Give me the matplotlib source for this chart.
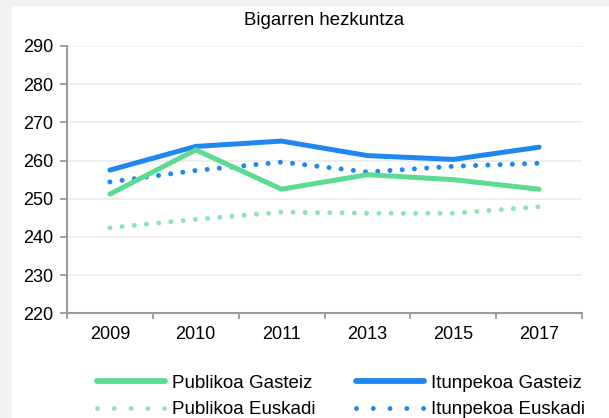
import matplotlib
matplotlib.use("Agg")
import matplotlib.pyplot as plt
from matplotlib.patches import Rectangle

plt.rcParams['font.family'] = ['Liberation Sans', 'DejaVu Sans']

years = ["2009", "2010", "2011", "2013", "2015", "2017"]
publikoa_gasteiz = [251.2, 262.8, 252.5, 256.3, 255.0, 252.5]
itunpekoa_gasteiz = [257.5, 263.7, 265.1, 261.3, 260.3, 263.5]
publikoa_euskadi = [242.4, 244.6, 246.5, 246.2, 246.2, 247.9]
itunpekoa_euskadi = [254.4, 257.4, 259.6, 257.0, 258.5, 259.3]
y_ticks = [220, 230, 240, 250, 260, 270, 280, 290]

GREEN = "#5cdb93"
GREEN_LIGHT = "#8fe5b1"
BLUE = "#1e88f0"
AXIS = "#9a9a9a"

fig = plt.figure(figsize=(6.09, 4.18), dpi=100)
fig.patch.set_facecolor("#f2f2f2")
# white chart panel behind everything
fig.patches.append(Rectangle((12 / 609, 0), 1, 1 - 6 / 418, transform=fig.transFigure,
                             facecolor="white", edgecolor="none", zorder=-10))

ax = fig.add_axes([67 / 609, 1 - 313.3 / 418, (582 - 67) / 609, (313.3 - 46) / 418])
ax.set_facecolor("white")

x = list(range(len(years)))
lw = 3.6
dot = (0, (0.001, 2.45))

ax.plot(x, publikoa_euskadi, color=GREEN_LIGHT, lw=lw, linestyle=dot,
        dash_capstyle="round", label="Publikoa Euskadi", zorder=3)
ax.plot(x, itunpekoa_euskadi, color=BLUE, lw=lw, linestyle=dot,
        dash_capstyle="round", label="Itunpekoa Euskadi", zorder=3)
ax.plot(x, itunpekoa_gasteiz, color=BLUE, lw=lw, solid_capstyle="round",
        label="Itunpekoa Gasteiz", zorder=4)
ax.plot(x, publikoa_gasteiz, color=GREEN, lw=lw, solid_capstyle="round",
        label="Publikoa Gasteiz", zorder=5)

ax.set_xlim(-0.5, len(years) - 0.5)
ax.set_ylim(220, 290)
ax.set_yticks(y_ticks)
ax.set_xticks(x)
ax.set_xticklabels(years)
ax.set_xticks([i - 0.5 for i in range(len(years) + 1)], minor=True)

ax.tick_params(axis="x", which="major", length=0, pad=9, labelsize=13)
ax.tick_params(axis="x", which="minor", length=4, width=1.3, color=AXIS)
ax.tick_params(axis="y", length=5, width=1.3, color=AXIS, pad=5, labelsize=13)

for s in ["top", "right"]:
    ax.spines[s].set_visible(False)
for s in ["left", "bottom"]:
    ax.spines[s].set_color(AXIS)
    ax.spines[s].set_linewidth(1.5)

for v in y_ticks[1:]:
    ax.axhline(v, color="#ebebeb", lw=1.2, zorder=1)

ax.set_title("Bigarren hezkuntza", fontsize=13.4, pad=15)

handles, labels = ax.get_legend_handles_labels()
order = ["Publikoa Gasteiz", "Publikoa Euskadi", "Itunpekoa Gasteiz", "Itunpekoa Euskadi"]
hmap = dict(zip(labels, handles))
leg = fig.legend([hmap[k] for k in order], order, ncol=2, loc="center",
                 bbox_to_anchor=(341 / 609, 1 - 396.5 / 418), frameon=False, fontsize=13.5,
                 handlelength=3.6, handletextpad=0.37, columnspacing=2.2,
                 labelspacing=0.5)
for line, name in zip(leg.get_lines(), order):
    if "Euskadi" in name:
        line.set_linewidth(3.5)
        line.set_linestyle((0, (0.001, 3.45)))
        line.set_dash_capstyle("round")
    else:
        line.set_linewidth(4.2)

fig.savefig("out.png", dpi=100, facecolor=fig.get_facecolor())
